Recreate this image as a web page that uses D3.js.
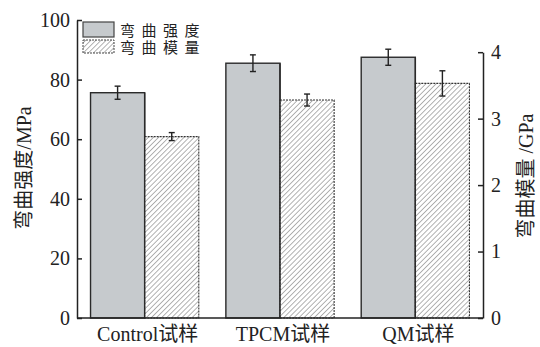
<!DOCTYPE html>
<html>
<head>
<meta charset="utf-8">
<script src="https://cdn.jsdelivr.net/npm/d3@7/dist/d3.min.js"></script>
<style>
  html, body { margin: 0; padding: 0; background: #fff; }
  svg { display: block; }
</style>
</head>
<body>
<svg id="chart" width="540" height="347"></svg>
<script>
// Sample groups and measured properties
const categories = ["Control试样", "TPCM试样", "QM试样"];
const strength = [75.6, 85.5, 87.5];        // 弯曲强度, MPa
const strengthErr = [2.2, 2.8, 2.7];
const modulus = [2.73, 3.28, 3.53];         // 弯曲模量, GPa
const modulusErr = [0.06, 0.09, 0.19];
const leftTicks = [0, 20, 40, 60, 80, 100];
const rightTicks = [0, 1, 2, 3, 4];
const seriesNames = ["弯曲强度", "弯曲模量"];

const SERIF = "Liberation Serif, Noto Sans CJK SC, serif";

const svg = d3.select("#chart");
const m = { left: 77, right: 483, top: 20, bottom: 318 };

const x0 = d3.scaleBand().domain(categories).range([m.left, m.right])
  .paddingInner(0.2).paddingOuter(0.1);
const x1 = d3.scaleBand().domain(["s", "m"]).range([0, x0.bandwidth()]);
const yL = d3.scaleLinear().domain([0, 100]).range([m.bottom, m.top]);
const yR = d3.scaleLinear().domain([0, 4]).range([m.bottom, yL(89.2)]);

// diagonal hatch for the modulus bars
const defs = svg.append("defs");
const pat = defs.append("pattern").attr("id", "hatch")
  .attr("patternUnits", "userSpaceOnUse").attr("width", 3.6).attr("height", 3.6)
  .attr("patternTransform", "rotate(45)");
pat.append("rect").attr("width", 3.6).attr("height", 3.6).attr("fill", "#fff");
pat.append("line").attr("x1", 0).attr("y1", 0).attr("x2", 0).attr("y2", 3.6)
  .attr("stroke", "#555").attr("stroke-width", 0.9);

const rows = categories.map((c, i) => ({
  c, s: strength[i], se: strengthErr[i], mo: modulus[i], me: modulusErr[i]
}));

const g = svg.append("g");

// strength bars (left axis)
g.selectAll(".bs").data(rows).join("rect")
  .attr("x", d => x0(d.c) + x1("s"))
  .attr("y", d => yL(d.s))
  .attr("width", x1.bandwidth())
  .attr("height", d => yL(0) - yL(d.s))
  .attr("fill", "#c6cacd")
  .attr("stroke", "#2a2a2a").attr("stroke-width", 1.4);

// modulus bars (right axis)
g.selectAll(".bm").data(rows).join("rect")
  .attr("x", d => x0(d.c) + x1("m"))
  .attr("y", d => yR(d.mo))
  .attr("width", x1.bandwidth())
  .attr("height", d => yR(0) - yR(d.mo))
  .attr("fill", "url(#hatch)")
  .attr("stroke", "#333").attr("stroke-width", 1.1)
  .attr("stroke-dasharray", "2,1");

// shared edge between paired bars
g.selectAll(".edge").data(rows).join("line")
  .attr("x1", d => x0(d.c) + x1("m")).attr("x2", d => x0(d.c) + x1("m"))
  .attr("y1", d => yL(d.s)).attr("y2", m.bottom)
  .attr("stroke", "#2a2a2a").attr("stroke-width", 1.4);

// error bars
function errBars(data, xf, yf, v, e) {
  const cap = 3;
  const eg = g.append("g").attr("stroke", "#222").attr("stroke-width", 1.4);
  data.forEach(d => {
    const cx = xf(d);
    const y1 = yf(v(d) + e(d)), y2 = yf(v(d) - e(d));
    eg.append("line").attr("x1", cx).attr("x2", cx).attr("y1", y1).attr("y2", y2);
    eg.append("line").attr("x1", cx - cap).attr("x2", cx + cap).attr("y1", y1).attr("y2", y1);
    eg.append("line").attr("x1", cx - cap).attr("x2", cx + cap).attr("y1", y2).attr("y2", y2);
  });
}
errBars(rows, d => x0(d.c) + x1("s") + x1.bandwidth() / 2, yL, d => d.s, d => d.se);
errBars(rows, d => x0(d.c) + x1("m") + x1.bandwidth() / 2, yR, d => d.mo, d => d.me);

// axes
const axL = svg.append("g").attr("transform", `translate(${m.left},0)`)
  .call(d3.axisLeft(yL).tickValues(leftTicks).tickFormat(d3.format("d"))
    .tickSizeInner(-5).tickSizeOuter(0).tickPadding(7));
const axR = svg.append("g").attr("transform", `translate(${m.right},0)`)
  .call(d3.axisRight(yR).tickValues(rightTicks).tickFormat(d3.format("d"))
    .tickSizeInner(-5).tickSizeOuter(0).tickPadding(8));
[axL, axR].forEach(a => {
  a.attr("font-family", SERIF).attr("font-size", 20);
  a.selectAll("path.domain").attr("stroke", "#222").attr("stroke-width", 1.5);
  a.selectAll(".tick line").attr("stroke", "#222").attr("stroke-width", 1.5);
  a.selectAll(".tick text")
    .style("font-family", SERIF).style("font-size", "20px").attr("fill", "#222");
});
svg.append("line").attr("x1", m.left).attr("x2", m.right)
  .attr("y1", m.bottom).attr("y2", m.bottom)
  .attr("stroke", "#222").attr("stroke-width", 1.5);

// category labels
svg.selectAll(".cat").data(categories).join("text")
  .attr("x", c => x0(c) + x0.bandwidth() / 2 + 3)
  .attr("y", 341)
  .attr("text-anchor", "middle")
  .attr("fill", "#222")
  .style("font-family", SERIF).style("font-size", "20px")
  .text(c => c);

// axis titles
svg.append("text")
  .attr("transform", `translate(31,${(m.top + m.bottom) / 2 - 1}) rotate(-90)`)
  .attr("text-anchor", "middle").attr("fill", "#222")
  .style("font-family", SERIF).style("font-size", "20px")
  .text("弯曲强度/MPa");
svg.append("text")
  .attr("transform", `translate(533,${(m.top + m.bottom) / 2 + 7}) rotate(-90)`)
  .attr("text-anchor", "middle").attr("fill", "#222")
  .style("font-family", SERIF).style("font-size", "20px")
  .text("弯曲模量 /GPa");

// legend
const lg = svg.append("g").attr("transform", "translate(83,22)");
lg.append("rect").attr("x", 0).attr("y", 0).attr("width", 31).attr("height", 15)
  .attr("fill", "#c6cacd").attr("stroke", "#444").attr("stroke-width", 1.2);
lg.append("rect").attr("x", 0).attr("y", 18).attr("width", 31).attr("height", 13)
  .attr("fill", "url(#hatch)").attr("stroke", "#444").attr("stroke-width", 1)
  .attr("stroke-dasharray", "2,1");
lg.selectAll(".lt").data(seriesNames).join("text")
  .attr("x", 37).attr("y", (d, i) => 14 + i * 17)
  .attr("fill", "#222")
  .style("font-family", SERIF).style("font-size", "15px")
  .style("letter-spacing", "6.5px")
  .text(d => d);
</script>
</body>
</html>
